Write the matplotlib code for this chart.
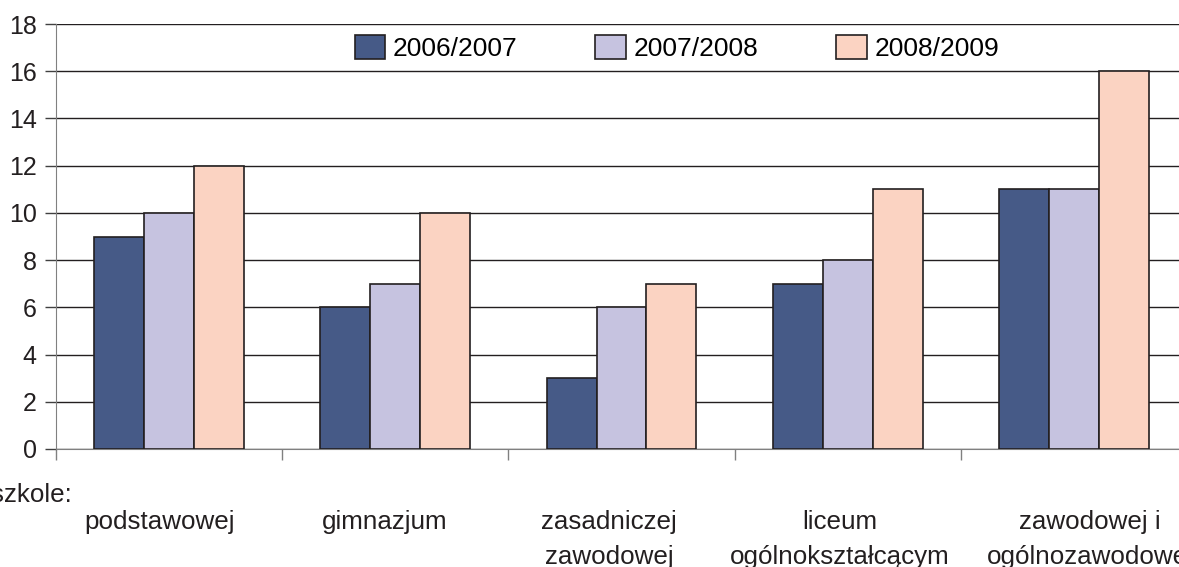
import matplotlib
matplotlib.use("Agg")
import matplotlib.pyplot as plt
import numpy as np

plt.rcParams['font.family'] = ['Liberation Sans', 'DejaVu Sans']

categories = ["podstawowej", "gimnazjum", "zasadniczej\nzawodowej",
              "liceum\nogólnokształcącym", "zawodowej i\nogólnozawodowej"]
series_names = ["2006/2007", "2007/2008", "2008/2009"]
v2006 = [9, 6, 3, 7, 11]
v2007 = [10, 7, 6, 8, 11]
v2008 = [12, 10, 7, 11, 16]
colors = ["#465A87", "#C6C3E0", "#FBD3C2"]
yticks = [0, 2, 4, 6, 8, 10, 12, 14, 16, 18]

W, H = 1179, 567
fig = plt.figure(figsize=(W / 100, H / 100), dpi=100)
ax_left, ax_right, ax_top, ax_bottom = 56, 1187, 24, 449
ax = fig.add_axes([ax_left / W, (H - ax_bottom) / H,
                   (ax_right - ax_left) / W, (ax_bottom - ax_top) / H])

x = np.arange(len(categories))
w = 0.221
for i, (vals, name, c) in enumerate(zip([v2006, v2007, v2008], series_names, colors)):
    ax.bar(x + (i - 1) * w, vals, w, color=c, edgecolor="#231f20", linewidth=1.2,
           label=name, zorder=3)

ax.set_xlim(-0.5, 4.5)
ax.set_ylim(0, 18)
ax.set_yticks(yticks)
ax.yaxis.grid(True, color="#231f20", linewidth=1.0, zorder=0)
ax.set_axisbelow(True)
for s in ["top", "right"]:
    ax.spines[s].set_visible(False)
ax.spines["left"].set_color("#808080")
ax.spines["bottom"].set_color("#808080")
ax.tick_params(axis="y", length=8, width=1, color="#404040", labelsize=18, pad=6,
               labelcolor="#231f20")
ax.set_xticks([0.5, 1.5, 2.5, 3.5, 4.5])
ax.set_xticklabels([])
ax.tick_params(axis="x", length=8, width=1, color="#808080", direction="out")
ax.set_xticks([-0.5], minor=True)
ax.tick_params(axis="x", which="minor", length=8, width=1, color="#808080")

# label placement (pixel layout)
label_px = [160, 385, 609, 840, 1090]
line_baselines = [529, 564]
for lab, px in zip(categories, label_px):
    for ln, by in zip(lab.split("\n"), line_baselines):
        fig.text(px / W, 1 - by / H, ln, ha="center", va="baseline",
                 fontsize=18.7, color="#231f20")
fig.text(72 / W, 1 - 502 / H, "w szkole:", ha="right", va="baseline",
         fontsize=18.7, color="#231f20")

leg = ax.legend(loc="center", bbox_to_anchor=(677 / W, 1 - 48 / H),
                bbox_transform=fig.transFigure, ncol=3,
                frameon=False, fontsize=19, handlelength=1.15, handleheight=1.05,
                columnspacing=2.95, handletextpad=0.3, borderaxespad=0.0)

fig.savefig("out.png", dpi=100)
